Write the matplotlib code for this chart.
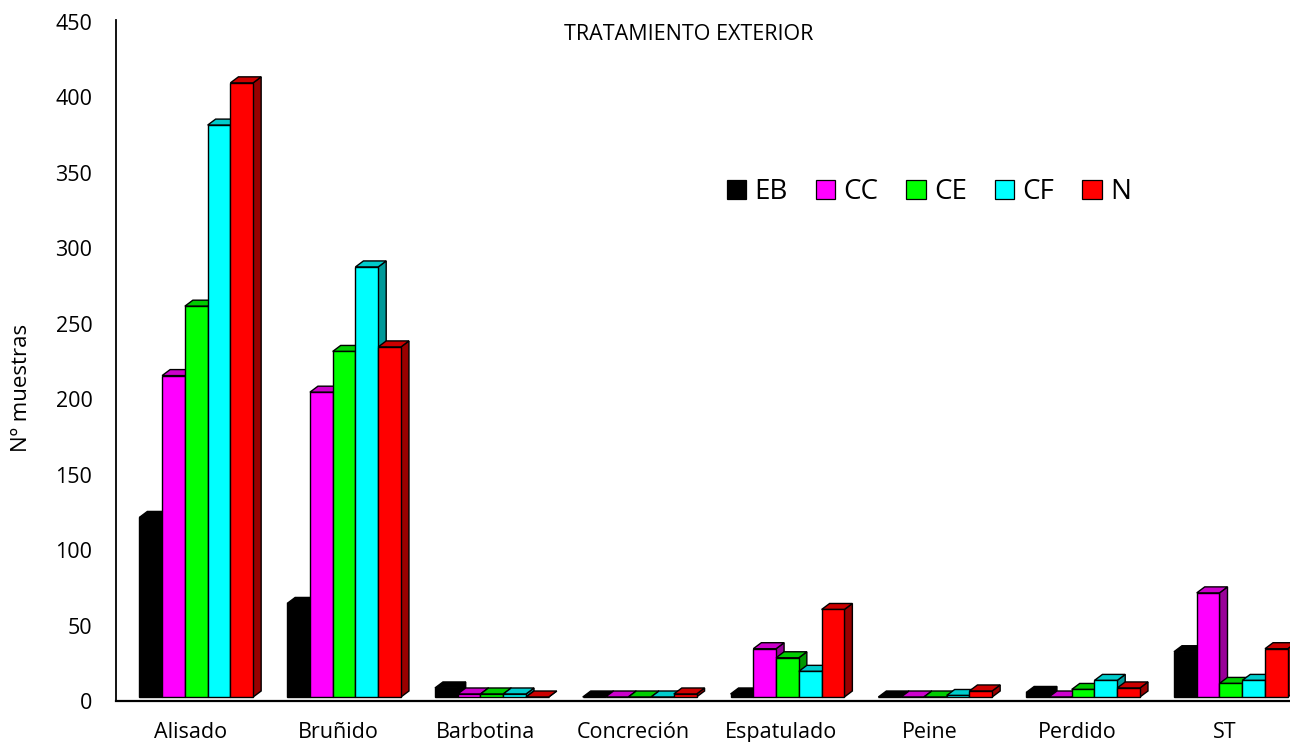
import numpy as np
import matplotlib
matplotlib.use("Agg")
import matplotlib.pyplot as plt
import matplotlib.colors as mcolors
from matplotlib.patches import Polygon, Patch


categories = ["Alisado", "Bruñido", "Barbotina", "Concreción",
              "Espatulado", "Peine", "Perdido", "ST"]
series_names = ["EB", "CC", "CE", "CF", "N"]

eb = [119, 62, 6, 0, 2, 0, 3, 30]
cc = [213, 202, 2, 0, 32, 0, 0, 69]
ce = [259, 229, 2, 0, 26, 0, 5, 9]
cf = [379, 285, 2, 0, 17, 1, 11, 11]
n = [407, 232, 0, 2, 58, 4, 6, 32]

series_values = [eb, cc, ce, cf, n]
series_colors = ["#000000", "#FF00FF", "#00FF00", "#00FFFF", "#FF0000"]

yticks = [0, 50, 100, 150, 200, 250, 300, 350, 400, 450]

# look of the fake 3D columns
BAR_W = 0.154        # width of one column, in category units
DEPTH_PX = (8, 6)    # projected depth of each column, in pixels (x, y)
FLOOR_PX = 4         # columns sit slightly above the axis line
LABEL_SHIFT_PX = 6   # category labels sit a bit left of the groups


def shade(color, k):
    r, g, b = mcolors.to_rgb(color)
    return (r * k, g * k, b * k)


plt.rcParams["font.family"] = ["Open Sans", "DejaVu Sans"]

W, H = 1290, 742
fig = plt.figure(figsize=(W / 100, H / 100), dpi=100)
ax = fig.add_axes([116 / W, (H - 701) / H, (W - 116) / W, (701 - 20) / H])

x_lo, x_hi = -0.543, 7.40
y_lo, y_hi = 0, 451.3
ax.set_xlim(x_lo, x_hi)
ax.set_ylim(y_lo, y_hi)

# pixel -> data conversion for the depth offsets
bbox = ax.get_window_extent()
px_x = bbox.width / (x_hi - x_lo)
px_y = bbox.height / (y_hi - y_lo)
dx = DEPTH_PX[0] / px_x
dy = DEPTH_PX[1] / px_y
floor = FLOOR_PX / px_y

n_series = len(series_values)
group_w = BAR_W * n_series
z = 2

for i, cat in enumerate(categories):
    for j, vals in enumerate(series_values):
        v = vals[i]
        col = series_colors[j]
        x0 = i - group_w / 2 + j * BAR_W
        x1 = x0 + BAR_W
        b = floor
        t = floor + v

        side = Polygon([(x1, b), (x1 + dx, b + dy), (x1 + dx, t + dy), (x1, t)],
                       closed=True, facecolor=shade(col, 0.6),
                       edgecolor="black", linewidth=1.0, zorder=z)
        top = Polygon([(x0, t), (x1, t), (x1 + dx, t + dy), (x0 + dx, t + dy)],
                      closed=True, facecolor=shade(col, 0.8),
                      edgecolor="black", linewidth=1.0, zorder=z + 1)
        front = Polygon([(x0, b), (x1, b), (x1, t), (x0, t)],
                        closed=True, facecolor=col,
                        edgecolor="black", linewidth=1.0, zorder=z + 2)
        ax.add_patch(side)
        ax.add_patch(top)
        ax.add_patch(front)
        z += 3

ax.set_xticks(np.arange(len(categories)) - LABEL_SHIFT_PX / px_x)
ax.set_xticklabels(categories, fontsize=15.5)
ax.set_yticks(yticks)
ax.set_yticklabels([str(t) for t in yticks], fontsize=15.5)
ax.tick_params(axis="both", length=0)
ax.tick_params(axis="x", pad=15)
ax.tick_params(axis="y", pad=17)

for s in ["top", "right"]:
    ax.spines[s].set_visible(False)
ax.spines["left"].set_linewidth(1.3)
ax.spines["bottom"].set_linewidth(1.6)
ax.spines["left"].set_zorder(1000)
ax.spines["bottom"].set_zorder(1)

fig.text(689 / W, 1 - 34 / H, "TRATAMIENTO EXTERIOR", ha="center",
         va="center", fontsize=15.5)
fig.text(22 / W, 1 - 388 / H, "Nº muestras", ha="center", va="center",
         rotation=90, fontsize=16)

handles = [Patch(facecolor=c, edgecolor="black", linewidth=0.9, label=lbl)
           for c, lbl in zip(series_colors, series_names)]
fig.legend(handles=handles, loc="center", ncol=5, frameon=False,
           bbox_to_anchor=(929 / W, 1 - 192 / H), fontsize=20,
           handlelength=0.7, handleheight=0.7, handletextpad=0.3,
           columnspacing=1.0)

fig.savefig("out.png", dpi=100)
